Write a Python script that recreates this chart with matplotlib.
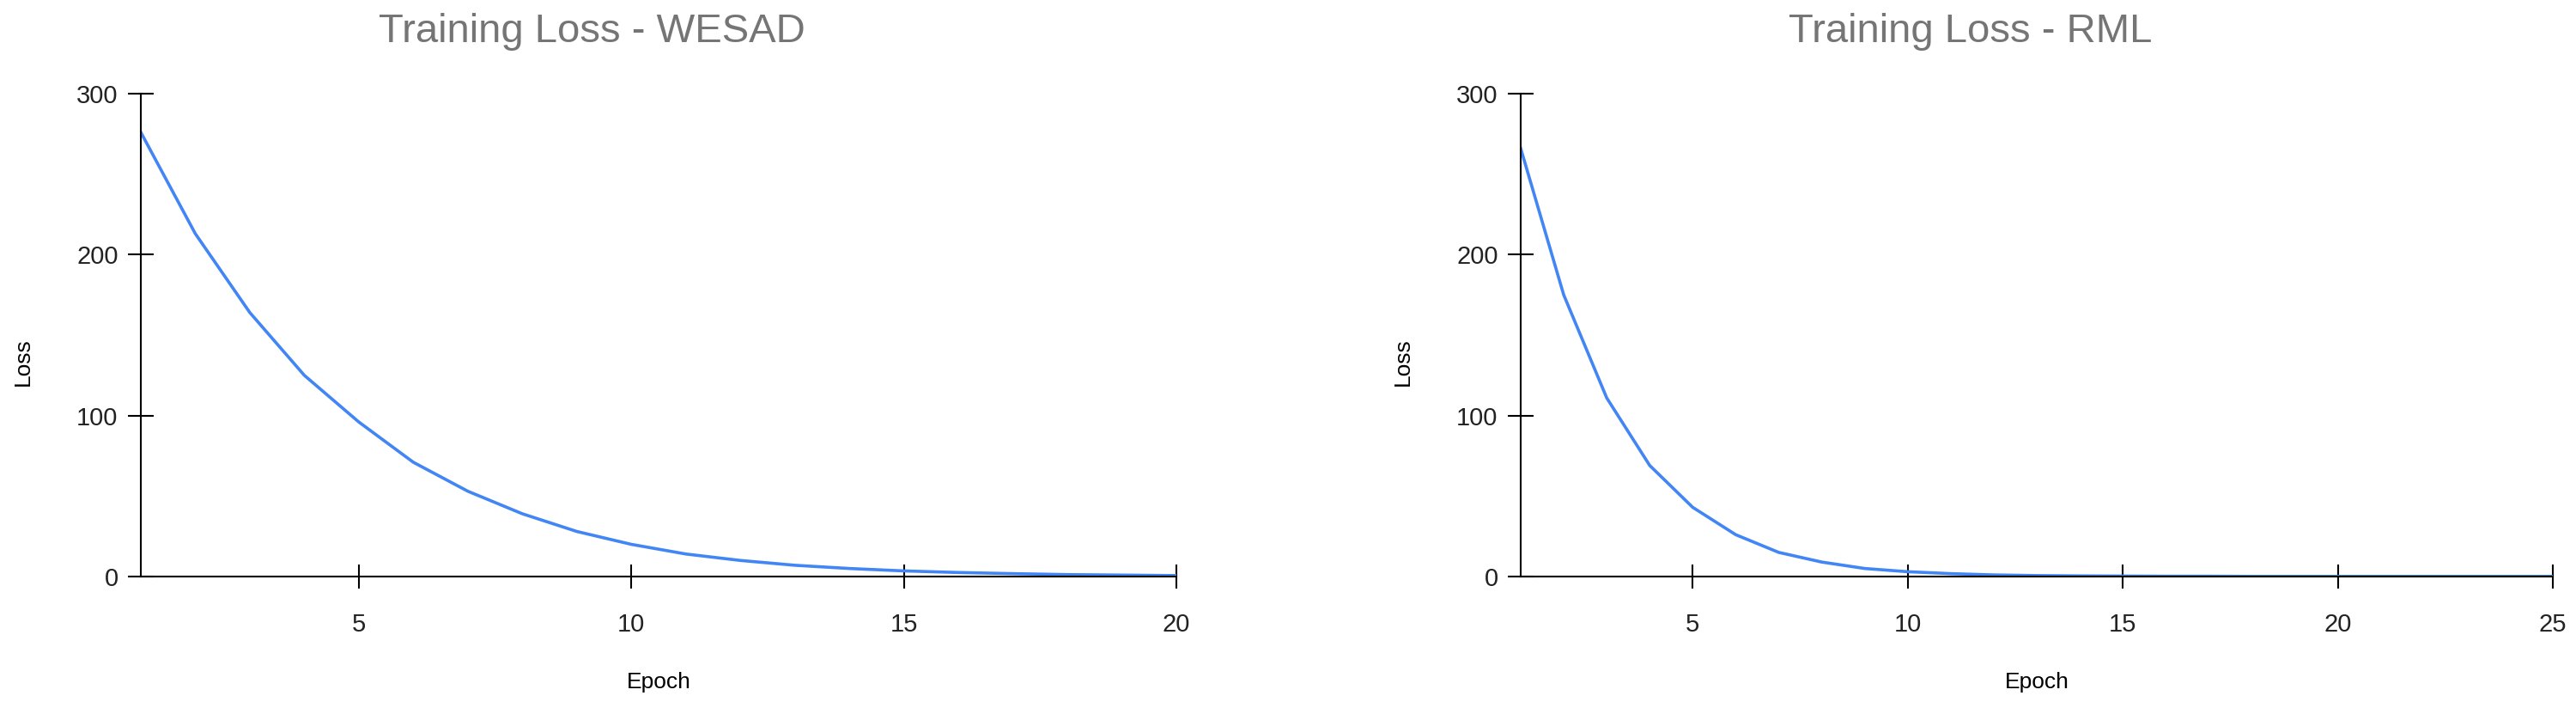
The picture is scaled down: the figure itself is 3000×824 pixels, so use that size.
import matplotlib
matplotlib.use("Agg")
import matplotlib.pyplot as plt

# Data
wesad_epochs = list(range(1, 21))
wesad_loss = [276, 213, 164, 125, 96, 71, 53, 39, 28, 20,
              14, 10, 7, 5, 3.5, 2.5, 1.8, 1.2, 0.9, 0.6]

rml_epochs = list(range(1, 26))
rml_loss = [266, 175, 111, 69, 43, 26, 15, 9, 5, 3,
            1.8, 1.0, 0.6, 0.4, 0.3, 0.2, 0.2, 0.1, 0.1, 0.1,
            0.1, 0.1, 0.1, 0.1, 0.1]

titles = ["Training Loss - WESAD", "Training Loss - RML"]
x_ticks = [[5, 10, 15, 20], [5, 10, 15, 20, 25]]
y_ticks = [0, 100, 200, 300]

plt.rcParams['font.family'] = ['Liberation Sans', 'DejaVu Sans']

W, H = 3000, 824
fig = plt.figure(figsize=(W / 100, H / 100), dpi=100)

# axes boxes in pixels: (left, right)
boxes = [(164, 1370), (1771, 2973)]
top_px, bot_px = 109, 671
title_x = [689, 2295]
loss_x = [27, 1634]

series = [(wesad_epochs, wesad_loss), (rml_epochs, rml_loss)]

for i, ((l, r), (xs, ys)) in enumerate(zip(boxes, series)):
    ax = fig.add_axes([l / W, 1 - bot_px / H, (r - l) / W, (bot_px - top_px) / H])
    ax.plot(xs, ys, color="#4285F4", lw=2.6, solid_joinstyle="round")
    ax.set_xlim(xs[0], xs[-1])
    ax.set_ylim(0, 300)
    ax.set_xticks(x_ticks[i])
    ax.set_yticks(y_ticks)
    for s in ["top", "right"]:
        ax.spines[s].set_visible(False)
    for s in ["left", "bottom"]:
        ax.spines[s].set_linewidth(1.5)
        ax.spines[s].set_color("black")
    ax.tick_params(axis="x", direction="inout", length=20, width=1.5,
                   labelsize=21, pad=20, colors="black", labelcolor="#222222")
    ax.tick_params(axis="y", direction="inout", length=22, width=1.5,
                   labelsize=21, pad=8, colors="black", labelcolor="#222222")

    fig.text(title_x[i] / W, 1 - 37 / H, titles[i], ha="center", va="center",
             fontsize=34, color="#757575")
    fig.text(loss_x[i] / W, 1 - 421 / H, "Loss", ha="center", va="center",
             rotation=90, fontsize=19, color="black")
    fig.text((l + r) / 2 / W, 1 - 794 / H, "Epoch", ha="center", va="center",
             fontsize=19, color="black")

fig.savefig("out.png", dpi=100, facecolor="white")
